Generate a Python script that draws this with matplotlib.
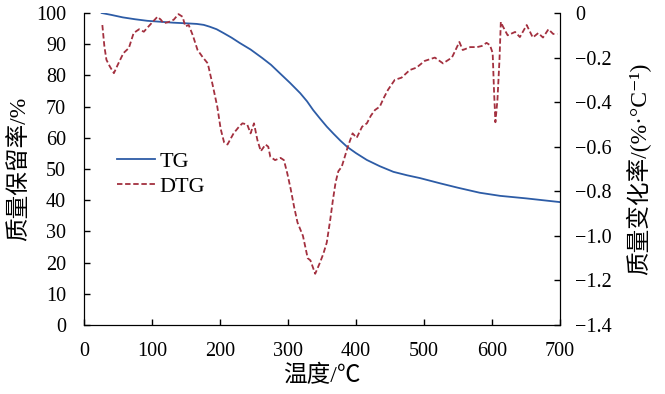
import matplotlib
matplotlib.use("Agg")
import matplotlib.pyplot as plt

plt.rcParams["font.family"] = ["Liberation Serif", "Noto Sans CJK SC", "DejaVu Sans"]
plt.rcParams["axes.unicode_minus"] = True

# TG curve: temperature (°C) vs mass retention (%)
tg_temp = [26, 40, 57, 75, 93, 112, 131, 150, 166, 176, 185, 195, 205, 217, 229,
           245, 262, 275, 288, 303, 318, 328, 337, 347, 357, 367, 377, 387, 400,
           416, 435, 455, 475, 494, 524, 550, 582, 612, 650, 675, 700]
tg_mass = [100, 99.4, 98.6, 98.0, 97.5, 97.2, 96.9, 96.7, 96.5, 96.2, 95.6, 94.8,
           93.6, 92.1, 90.4, 88.3, 85.6, 83.4, 80.7, 77.6, 74.3, 71.7, 68.9, 66.2,
           63.6, 61.3, 59.1, 57.1, 55.1, 52.9, 50.9, 49.1, 48.0, 47.1, 45.4, 44.0,
           42.4, 41.4, 40.6, 40.0, 39.4]

# DTG curve: temperature (°C) vs mass change rate (%/°C)
dtg_temp = [27, 30, 33, 38, 44, 50, 58, 66, 73, 81, 88, 95, 101, 108, 113, 117,
            125, 132, 139, 145, 149, 154, 160, 167, 175, 182, 189, 196, 201, 206,
            211, 220, 228, 233, 240, 245, 250, 255, 260, 267, 271, 274, 281, 289,
            294, 299, 304, 309, 314, 322, 329, 333, 340, 347, 352, 357, 362, 366,
            370, 374, 379, 383, 388, 395, 401, 409, 416, 422, 428, 435, 441, 447,
            457, 467, 479, 489, 501, 516, 528, 541, 545, 552, 557, 568, 578, 585,
            592, 597, 601, 603, 605, 608, 611, 613, 616, 623, 634, 641, 651, 660,
            668, 675, 683, 690, 696]
dtg_rate = [-0.054, -0.15, -0.21, -0.24, -0.27, -0.23, -0.18, -0.157, -0.09,
            -0.073, -0.084, -0.06, -0.04, -0.017, -0.03, -0.046, -0.04, -0.03,
            -0.005, -0.017, -0.06, -0.054, -0.1, -0.166, -0.2, -0.226, -0.32,
            -0.42, -0.52, -0.58, -0.59, -0.54, -0.51, -0.495, -0.50, -0.54, -0.495,
            -0.57, -0.62, -0.59, -0.60, -0.645, -0.66, -0.65, -0.66, -0.72, -0.79,
            -0.87, -0.94, -1.0, -1.1, -1.11, -1.17, -1.12, -1.08, -1.03, -0.93,
            -0.84, -0.76, -0.71, -0.69, -0.65, -0.60, -0.54, -0.56, -0.51, -0.495,
            -0.46, -0.435, -0.42, -0.38, -0.345, -0.30, -0.29, -0.256, -0.245,
            -0.215, -0.20, -0.226, -0.20, -0.175, -0.13, -0.166, -0.153, -0.153,
            -0.148, -0.134, -0.144, -0.18, -0.35, -0.49, -0.39, -0.21, -0.04,
            -0.06, -0.1, -0.085, -0.108, -0.054, -0.11, -0.09, -0.11, -0.073,
            -0.094, -0.094]

x_ticks = list(range(0, 701, 100))
left_ticks = list(range(0, 101, 10))
right_ticks = [0, -0.2, -0.4, -0.6, -0.8, -1.0, -1.2, -1.4]

fig = plt.figure(figsize=(6.65, 3.94), dpi=100)
ax = fig.add_axes([0.1263, 0.175, 0.7158, 0.792])
ax2 = ax.twinx()

tg_line, = ax.plot(tg_temp, tg_mass, color="#2d5ca6", linewidth=1.3, label="TG")
dtg_line, = ax2.plot(dtg_temp, dtg_rate, color="#a3303f", linewidth=1.3,
                     linestyle=(0, (3, 1.5)), label="DTG")

ax.set_xlim(0, 700)
ax.set_ylim(0, 100)
ax2.set_ylim(-1.4, 0)
ax.set_xticks(x_ticks)
ax.set_yticks(left_ticks)
ax2.set_yticks(right_ticks)
ax2.set_yticklabels(["0"] + [f"{v:.1f}".replace("-", "\u2212") for v in right_ticks[1:]])

for a in (ax, ax2):
    a.spines["top"].set_visible(False)
    a.tick_params(direction="in", length=4, width=1, labelsize=14.5, pad=11)
ax.tick_params(axis="y", pad=13)
ax.tick_params(axis="x", pad=12)

ax.set_xlabel("温度/℃", fontsize=17, labelpad=3)
ax.set_ylabel("质量保留率/%", fontsize=17, labelpad=4)
ax2.set_ylabel("质量变化率/(%·°C\u207b\u00b9)", fontsize=17, labelpad=10)

ax.legend([tg_line, dtg_line], ["TG", "DTG"], loc="upper left",
          bbox_to_anchor=(0.028, 0.62), frameon=False, fontsize=16,
          handlelength=1.7, handletextpad=0.2, labelspacing=0.2)

fig.savefig("out.png", dpi=100)
